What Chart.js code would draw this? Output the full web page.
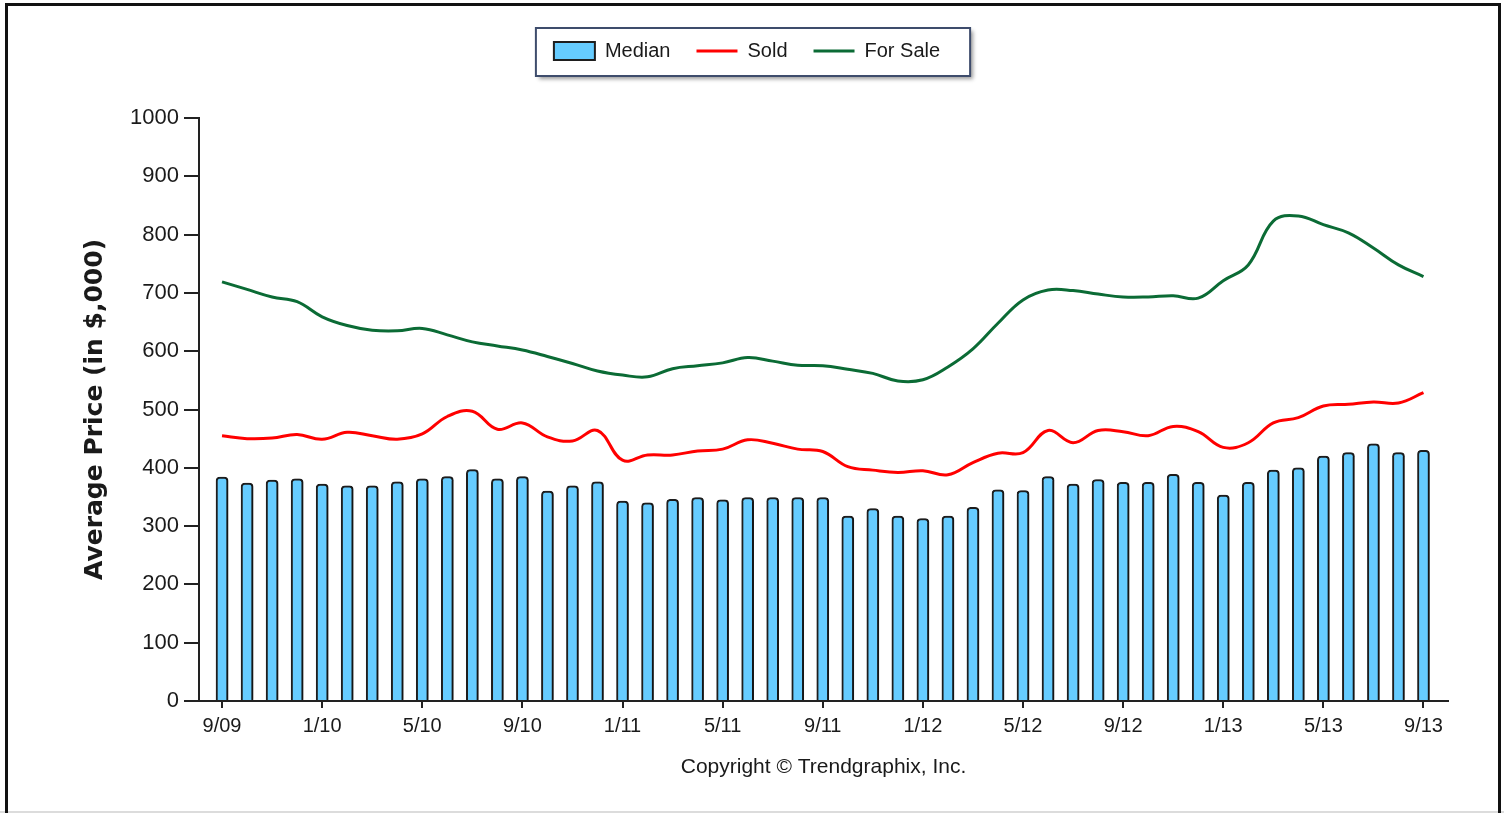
<!DOCTYPE html>
<html>
<head>
<meta charset="utf-8">
<title>Average Price</title>
<script src="https://cdn.jsdelivr.net/npm/chart.js@4/dist/chart.umd.min.js"></script>
<style>
    html, body { margin: 0; padding: 0; background: #fff; }
    body { width: 1504px; height: 813px; overflow: hidden; position: relative; }
    canvas { position: absolute; left: 0; top: 0; }
    #frame { position: absolute; left: 5px; top: 3px; width: 1496px; height: 840px; border: 3px solid #111; border-bottom: none; box-sizing: border-box; pointer-events: none; }
    #foot { position: absolute; left: 0; top: 811px; width: 1504px; height: 2px; background: #dcdcdc; }
</style>
</head>
<body>
<canvas id="price-chart" width="1504" height="813"></canvas>
<div id="foot"></div>
<div id="frame"></div>
<script>
// one entry per month, 9/09 .. 9/13
const months = [
    '9/09', '10/09', '11/09', '12/09',
    '1/10', '2/10', '3/10', '4/10', '5/10', '6/10', '7/10', '8/10', '9/10', '10/10', '11/10', '12/10',
    '1/11', '2/11', '3/11', '4/11', '5/11', '6/11', '7/11', '8/11', '9/11', '10/11', '11/11', '12/11',
    '1/12', '2/12', '3/12', '4/12', '5/12', '6/12', '7/12', '8/12', '9/12', '10/12', '11/12', '12/12',
    '1/13', '2/13', '3/13', '4/13', '5/13', '6/13', '7/13', '8/13', '9/13'
];

// median price (bars)
const median = [
    384, 374, 379, 381,
    372, 369, 369, 376, 381, 385, 397, 381, 385, 360, 369, 376,
    343, 340, 346, 349, 345, 349, 349, 349, 349, 317, 330, 317,
    313, 317, 332, 362, 361, 385, 372, 380, 375, 375, 389, 375,
    353, 375, 396, 400, 420, 426, 441, 426, 430
];

// average sold price
const sold = [
    455, 450, 451, 457,
    449, 461, 455, 449, 458, 488, 497, 466, 477, 453, 446, 464,
    413, 422, 422, 429, 432, 448, 442, 432, 428, 402, 396, 392,
    395, 388, 409, 425, 426, 464, 443, 464, 462, 455, 471, 462,
    435, 443, 477, 486, 506, 509, 513, 511, 529
];

// average for sale price
const forSale = [
    719, 706, 693, 685,
    659, 644, 636, 635, 639, 628, 616, 609, 602, 591, 579, 566,
    559, 556, 570, 575, 580, 589, 583, 576, 575, 569, 562, 549,
    551, 573, 604, 648, 688, 705, 704, 698, 693, 693, 695, 691,
    721, 748, 823, 832, 817, 803, 777, 748, 728
];

const yTicks = [0, 100, 200, 300, 400, 500, 600, 700, 800, 900, 1000];
const xTickStep = 4;

const fontFamily = '"Liberation Sans", Arial, sans-serif';
const textColor = '#1a1a1a';
const axisColor = '#222';

const toPoints = (values) => values.map((v, i) => ({ x: i, y: v }));

// make the legend box reach down to the top of the plot
const legendHeight = {
    id: 'legendHeight',
    beforeLayout(chart) {
        const legend = chart.legend;
        if (!legend || legend._tallFit) return;
        const fit = legend.fit;
        legend.fit = function () {
            fit.call(this);
            this.height = 103;
        };
        legend._tallFit = true;
    }
};

// frame + shadow behind the legend items
const legendFrame = {
    id: 'legendFrame',
    beforeDraw(chart) {
        const boxes = chart.legend && chart.legend.legendHitBoxes;
        if (!boxes || !boxes.length) return;
        const first = boxes[0];
        const last = boxes[boxes.length - 1];
        const left = first.left - 18;
        const right = last.left + last.width + 30;
        const top = first.top - 13;
        const bottom = first.top + 35;
        const ctx = chart.ctx;
        ctx.save();
        ctx.shadowColor = 'rgba(0,0,0,0.4)';
        ctx.shadowBlur = 4;
        ctx.shadowOffsetX = 3;
        ctx.shadowOffsetY = 3;
        ctx.fillStyle = '#fff';
        ctx.fillRect(left, top, right - left, bottom - top);
        ctx.restore();
        ctx.save();
        ctx.strokeStyle = '#3e4c6c';
        ctx.lineWidth = 2;
        ctx.strokeRect(left, top, right - left, bottom - top);
        ctx.restore();
    }
};

// soft shadow on the bars
const barShadow = {
    id: 'barShadow',
    beforeDatasetDraw(chart, args) {
        if (args.index !== 0) return;
        const ctx = chart.ctx;
        ctx.save();
        ctx.shadowColor = 'rgba(0,0,0,0.3)';
        ctx.shadowBlur = 2;
        ctx.shadowOffsetX = 2;
        ctx.shadowOffsetY = 0;
    },
    afterDatasetDraw(chart, args) {
        if (args.index !== 0) return;
        chart.ctx.restore();
    }
};

const data = {
    datasets: [{
        type: 'bar',
        label: 'Median',
        data: toPoints(median),
        backgroundColor: '#66ccff',
        borderColor: '#1e1e1e',
        borderWidth: 2,
        borderRadius: { topLeft: 4, topRight: 4 },
        borderSkipped: 'bottom',
        barThickness: 12
    }, {
        type: 'line',
        label: 'Sold',
        data: toPoints(sold),
        borderColor: '#ff0000',
        borderWidth: 3,
        pointRadius: 0,
        tension: 0.4,
        fill: false
    }, {
        type: 'line',
        label: 'For Sale',
        data: toPoints(forSale),
        borderColor: '#0b6b35',
        borderWidth: 3,
        pointRadius: 0,
        tension: 0.4,
        fill: false
    }]
};

const config = {
    type: 'bar',
    data: data,
    plugins: [legendHeight, legendFrame, barShadow],
    options: {
        responsive: false,
        animation: false,
        devicePixelRatio: 1,
        layout: {
            padding: { top: 15, left: 0, right: 10, bottom: 33 }
        },
        scales: {
            x: {
                type: 'linear',
                min: -0.92,
                max: 48.98,
                offset: false,
                afterBuildTicks: (scale) => {
                    scale.ticks = months
                        .map((m, i) => ({ value: i }))
                        .filter(t => t.value % xTickStep === 0);
                },
                afterFit: (scale) => {
                    scale.height = 79;
                    scale.paddingRight = 56;
                },
                ticks: {
                    callback: (value) => months[value],
                    autoSkip: false,
                    maxRotation: 0,
                    padding: 6,
                    color: textColor,
                    font: { family: fontFamily, size: 20 }
                },
                grid: {
                    offset: false,
                    drawOnChartArea: false,
                    drawTicks: true,
                    tickLength: 7,
                    lineWidth: 2,
                    color: axisColor
                },
                border: { display: true, color: axisColor, width: 2 },
                title: {
                    display: true,
                    text: 'Copyright © Trendgraphix, Inc.',
                    color: textColor,
                    padding: 0,
                    font: { family: fontFamily, size: 21 }
                }
            },
            y: {
                min: 0,
                max: 1000,
                afterBuildTicks: (scale) => {
                    scale.ticks = yTicks.map(v => ({ value: v }));
                },
                afterFit: (scale) => {
                    scale.width = 199;
                },
                ticks: {
                    callback: (value) => String(value),
                    padding: 5,
                    color: textColor,
                    font: { family: fontFamily, size: 22 }
                },
                grid: {
                    drawOnChartArea: false,
                    drawTicks: true,
                    tickLength: 15,
                    lineWidth: 2,
                    color: axisColor
                },
                border: { display: true, color: axisColor, width: 2 },
                title: {
                    display: true,
                    text: 'Average Price (in $,000)',
                    color: textColor,
                    padding: { top: 80, bottom: 0 },
                    font: { family: '"DejaVu Sans", sans-serif', size: 25, weight: 'bold' }
                }
            }
        },
        plugins: {
            legend: {
                position: 'top',
                labels: {
                    usePointStyle: true,
                    pointStyleWidth: 41,
                    boxHeight: 18,
                    padding: 26,
                    color: textColor,
                    font: { family: fontFamily, size: 20 },
                    generateLabels: (chart) => chart.data.datasets.map((ds, i) => ({
                        text: ds.label,
                        datasetIndex: i,
                        fillStyle: ds.type === 'bar' ? ds.backgroundColor : 'rgba(0,0,0,0)',
                        strokeStyle: ds.borderColor,
                        lineWidth: ds.type === 'bar' ? 2 : 3,
                        pointStyle: ds.type === 'bar' ? 'rect' : 'line',
                        fontColor: textColor,
                        hidden: false
                    }))
                }
            },
            tooltip: { enabled: false }
        }
    }
};

new Chart(document.getElementById('price-chart').getContext('2d'), config);
</script>
</body>
</html>
